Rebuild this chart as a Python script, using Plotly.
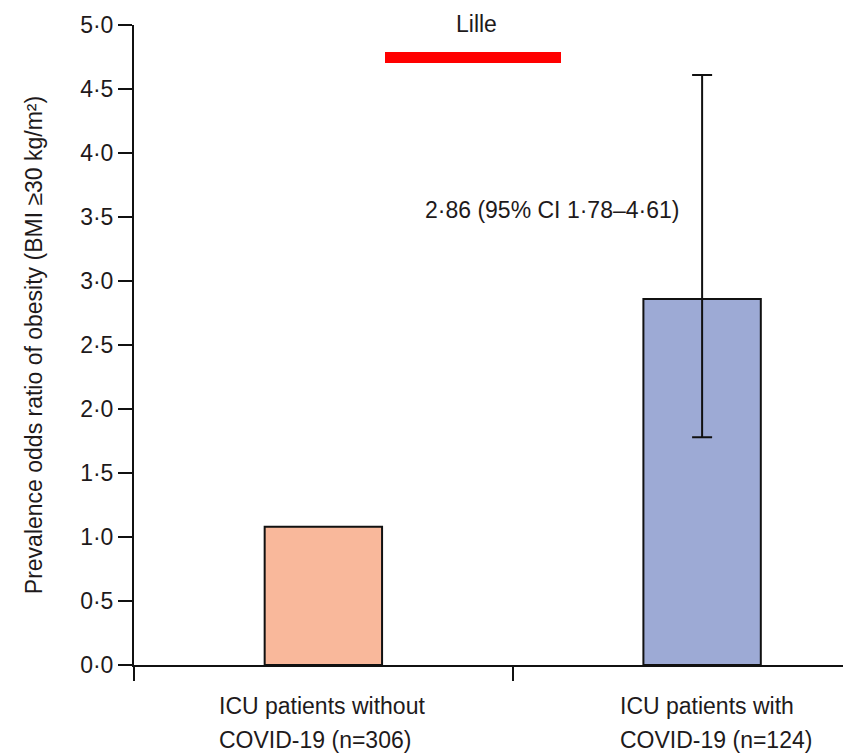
import plotly.graph_objects as go

# Odds ratios of obesity (BMI >= 30 kg/m2) among ICU patients, Lille cohort
group_line1 = ["ICU patients without", "ICU patients with"]
group_line2 = ["COVID-19 (n=306)", "COVID-19 (n=124)"]
odds_ratio = [1.08, 2.86]
ci_low = [None, 1.78]
ci_high = [None, 4.61]
bar_colors = ["#F9B89B", "#9DAAD5"]

y_ticks = [0.0, 0.5, 1.0, 1.5, 2.0, 2.5, 3.0, 3.5, 4.0, 4.5, 5.0]
cohort = "Lille"


def fmt(v, nd):
    # decimal point printed as a raised middle dot
    return f"{v:.{nd}f}".replace(".", "\u00b7")


FONT = "Liberation Sans"
INK = "#1e1a1b"
FS = 23

x_pos = list(range(len(odds_ratio)))
err_plus = [0 if h is None else h - v for h, v in zip(ci_high, odds_ratio)]
err_minus = [0 if l is None else v - l for l, v in zip(ci_low, odds_ratio)]
err_visible = [h is not None for h in ci_high]

fig = go.Figure()

# bars
fig.add_trace(go.Bar(
    x=x_pos,
    y=odds_ratio,
    width=0.31,
    marker=dict(color=bar_colors, line=dict(color="#111111", width=2)),
    showlegend=False,
    hoverinfo="skip",
))

# confidence interval of the COVID-19 group
ci_idx = [i for i, v in enumerate(err_visible) if v]
fig.add_trace(go.Scatter(
    x=[x_pos[i] for i in ci_idx],
    y=[odds_ratio[i] for i in ci_idx],
    mode="markers",
    marker=dict(size=1, color="rgba(0,0,0,0)"),
    error_y=dict(
        type="data",
        symmetric=False,
        array=[err_plus[i] for i in ci_idx],
        arrayminus=[err_minus[i] for i in ci_idx],
        color="#111111",
        thickness=2,
        width=10,
    ),
    showlegend=False,
    hoverinfo="skip",
))

annotations = []
for i in ci_idx:
    annotations.append(dict(
        x=x_pos[i], y=3.555, xref="x", yref="y",
        text=f"{fmt(odds_ratio[i], 2)} (95% CI {fmt(ci_low[i], 2)}\u2013{fmt(ci_high[i], 2)})",
        showarrow=False, xanchor="center", yanchor="middle", xshift=-150,
        font=dict(family=FONT, size=FS, color=INK),
    ))

# two-line group labels under the axis, left aligned
label_shift = [-106, -84]
for i in x_pos:
    for text, yshift in ((group_line1[i], -41), (group_line2[i], -75)):
        annotations.append(dict(
            x=x_pos[i], y=0, xref="x", yref="paper",
            text=text, showarrow=False,
            xanchor="left", yanchor="middle",
            xshift=label_shift[i], yshift=yshift,
            font=dict(family=FONT, size=FS, color=INK),
        ))

# cohort key label
annotations.append(dict(
    x=(476 - 134) / 709, y=(665 - 24) / 640, xref="paper", yref="paper",
    text=cohort, showarrow=False, xanchor="center", yanchor="middle",
    font=dict(family=FONT, size=FS, color=INK),
))

fig.update_layout(
    width=843,
    height=755,
    margin=dict(l=134, r=0, t=25, b=90, pad=0),
    paper_bgcolor="white",
    plot_bgcolor="white",
    font=dict(family=FONT, size=FS, color=INK),
    annotations=annotations,
    xaxis=dict(
        range=[-0.5, 1.372],
        tickvals=[-0.5, 0.5],
        ticktext=["", ""],
        ticks="outside",
        ticklen=14,
        tickwidth=2,
        tickcolor="#111111",
        showline=True,
        linecolor="#111111",
        linewidth=2,
        showgrid=False,
        zeroline=False,
        fixedrange=True,
    ),
    yaxis=dict(
        range=[0, 5.0],
        tickvals=y_ticks,
        ticktext=[fmt(v, 1) for v in y_ticks],
        ticks="outside",
        ticklen=14,
        tickwidth=2,
        tickcolor="#111111",
        ticklabelstandoff=0,
        tickfont=dict(family=FONT, size=FS, color=INK),
        showline=True,
        linecolor="#111111",
        linewidth=2,
        showgrid=False,
        zeroline=False,
        title=dict(
            text="Prevalence odds ratio of obesity (BMI \u226530 kg/m\u00b2)",
            font=dict(family=FONT, size=FS, color=INK),
            standoff=31,
        ),
        fixedrange=True,
    ),
)

# red key line for the cohort, in paper coordinates
fig.add_shape(
    type="rect", xref="paper", yref="paper",
    x0=(385 - 134) / 709, x1=(561 - 134) / 709,
    y0=(665 - 63) / 640, y1=(665 - 52) / 640,
    fillcolor="#FF0000", line=dict(width=0),
)

fig.write_html("out.html")
